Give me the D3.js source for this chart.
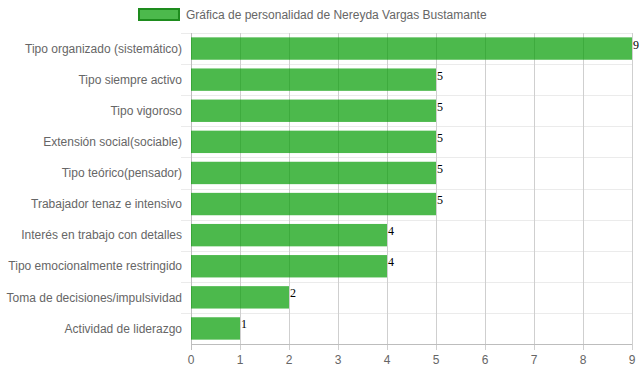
<!DOCTYPE html>
<html>
<head>
<meta charset="utf-8">
<script src="https://cdn.jsdelivr.net/npm/d3@7"></script>
<style>
  body { margin: 0; background: #fff; }
  svg { display: block; font-family: "Liberation Sans", Arial, sans-serif; }
</style>
</head>
<body>
<div id="chart"></div>
<script>
const categories = [
    "Tipo organizado (sistemático)",
    "Tipo siempre activo",
    "Tipo vigoroso",
    "Extensión social(sociable)",
    "Tipo teórico(pensador)",
    "Trabajador tenaz e intensivo",
    "Interés en trabajo con detalles",
    "Tipo emocionalmente restringido",
    "Toma de decisiones/impulsividad",
    "Actividad de liderazgo"
];
const values = [9, 5, 5, 5, 5, 5, 4, 4, 2, 1];
const xTicks = [0, 1, 2, 3, 4, 5, 6, 7, 8, 9];
const seriesName = "Gráfica de personalidad de Nereyda Vargas Bustamante";

const W = 639, H = 372;
const margin = { top: 33, right: 7, bottom: 28, left: 191 };
const width = W - margin.left - margin.right,
      height = H - margin.top - margin.bottom;

const svg = d3.select("#chart").append("svg")
    .attr("width", W)
    .attr("height", H);

const g = svg.append("g")
    .attr("transform", `translate(${margin.left},${margin.top})`);

const x = d3.scaleLinear().domain([0, 9]).range([0, width]);
const y = d3.scaleBand().domain(categories).range([0, height]).paddingInner(0.28).paddingOuter(0.14);
const band = d3.scaleBand().domain(categories).range([0, height]);

// horizontal grid (between categories)
g.selectAll(".hgrid")
    .data(categories)
    .enter()
    .append("line")
    .attr("x1", -10)
    .attr("x2", width)
    .attr("y1", d => Math.round(band(d)) + 0.5)
    .attr("y2", d => Math.round(band(d)) + 0.5)
    .attr("stroke", "#ebebeb");

// vertical grid
g.selectAll(".vgrid")
    .data(xTicks)
    .enter()
    .append("line")
    .attr("x1", d => Math.round(x(d)) + 0.5)
    .attr("x2", d => Math.round(x(d)) + 0.5)
    .attr("y1", 0)
    .attr("y2", height + 6)
    .attr("stroke", d => d === 0 ? "#bdbdbd" : "#cfcfcf");

// x axis line
g.append("line")
    .attr("x1", 0).attr("x2", width)
    .attr("y1", height + 0.5).attr("y2", height + 0.5)
    .attr("stroke", "#bdbdbd");

// bars
g.selectAll(".bar")
    .data(values)
    .enter()
    .append("rect")
    .attr("x", 0)
    .attr("y", (d, i) => y(categories[i]))
    .attr("width", d => x(d))
    .attr("height", y.bandwidth())
    .attr("fill", "rgba(0,155,0,0.7)");

// value labels
g.selectAll(".val")
    .data(values)
    .enter()
    .append("text")
    .attr("x", d => x(d) + 1)
    .attr("y", (d, i) => band(categories[i]) + band.bandwidth() / 2)
    .attr("fill", "#000")
    .style("font-family", "'Liberation Serif', 'Times New Roman', serif")
    .style("font-size", "12px")
    .text(d => d);

// y labels
g.selectAll(".ylab")
    .data(categories)
    .enter()
    .append("text")
    .attr("x", -9)
    .attr("y", d => band(d) + band.bandwidth() / 2)
    .attr("dy", "0.35em")
    .attr("text-anchor", "end")
    .attr("fill", "#666")
    .style("font-size", "12px")
    .text(d => d);

// x tick labels
g.selectAll(".xlab")
    .data(xTicks)
    .enter()
    .append("text")
    .attr("x", d => x(d))
    .attr("y", height + 11)
    .attr("dy", "0.71em")
    .attr("text-anchor", "middle")
    .attr("fill", "#666")
    .style("font-size", "12px")
    .text(d => d);

// legend
const legend = svg.append("g").attr("transform", "translate(139,9)");
legend.append("rect")
    .attr("width", 40)
    .attr("height", 11)
    .attr("fill", "rgba(0,155,0,0.7)")
    .attr("stroke", "#1e8c1e")
    .attr("stroke-width", 2);
legend.append("text")
    .attr("x", 47)
    .attr("y", 6)
    .attr("dy", "0.35em")
    .attr("fill", "#666")
    .style("font-size", "12px")
    .text(seriesName);
</script>
</body>
</html>
